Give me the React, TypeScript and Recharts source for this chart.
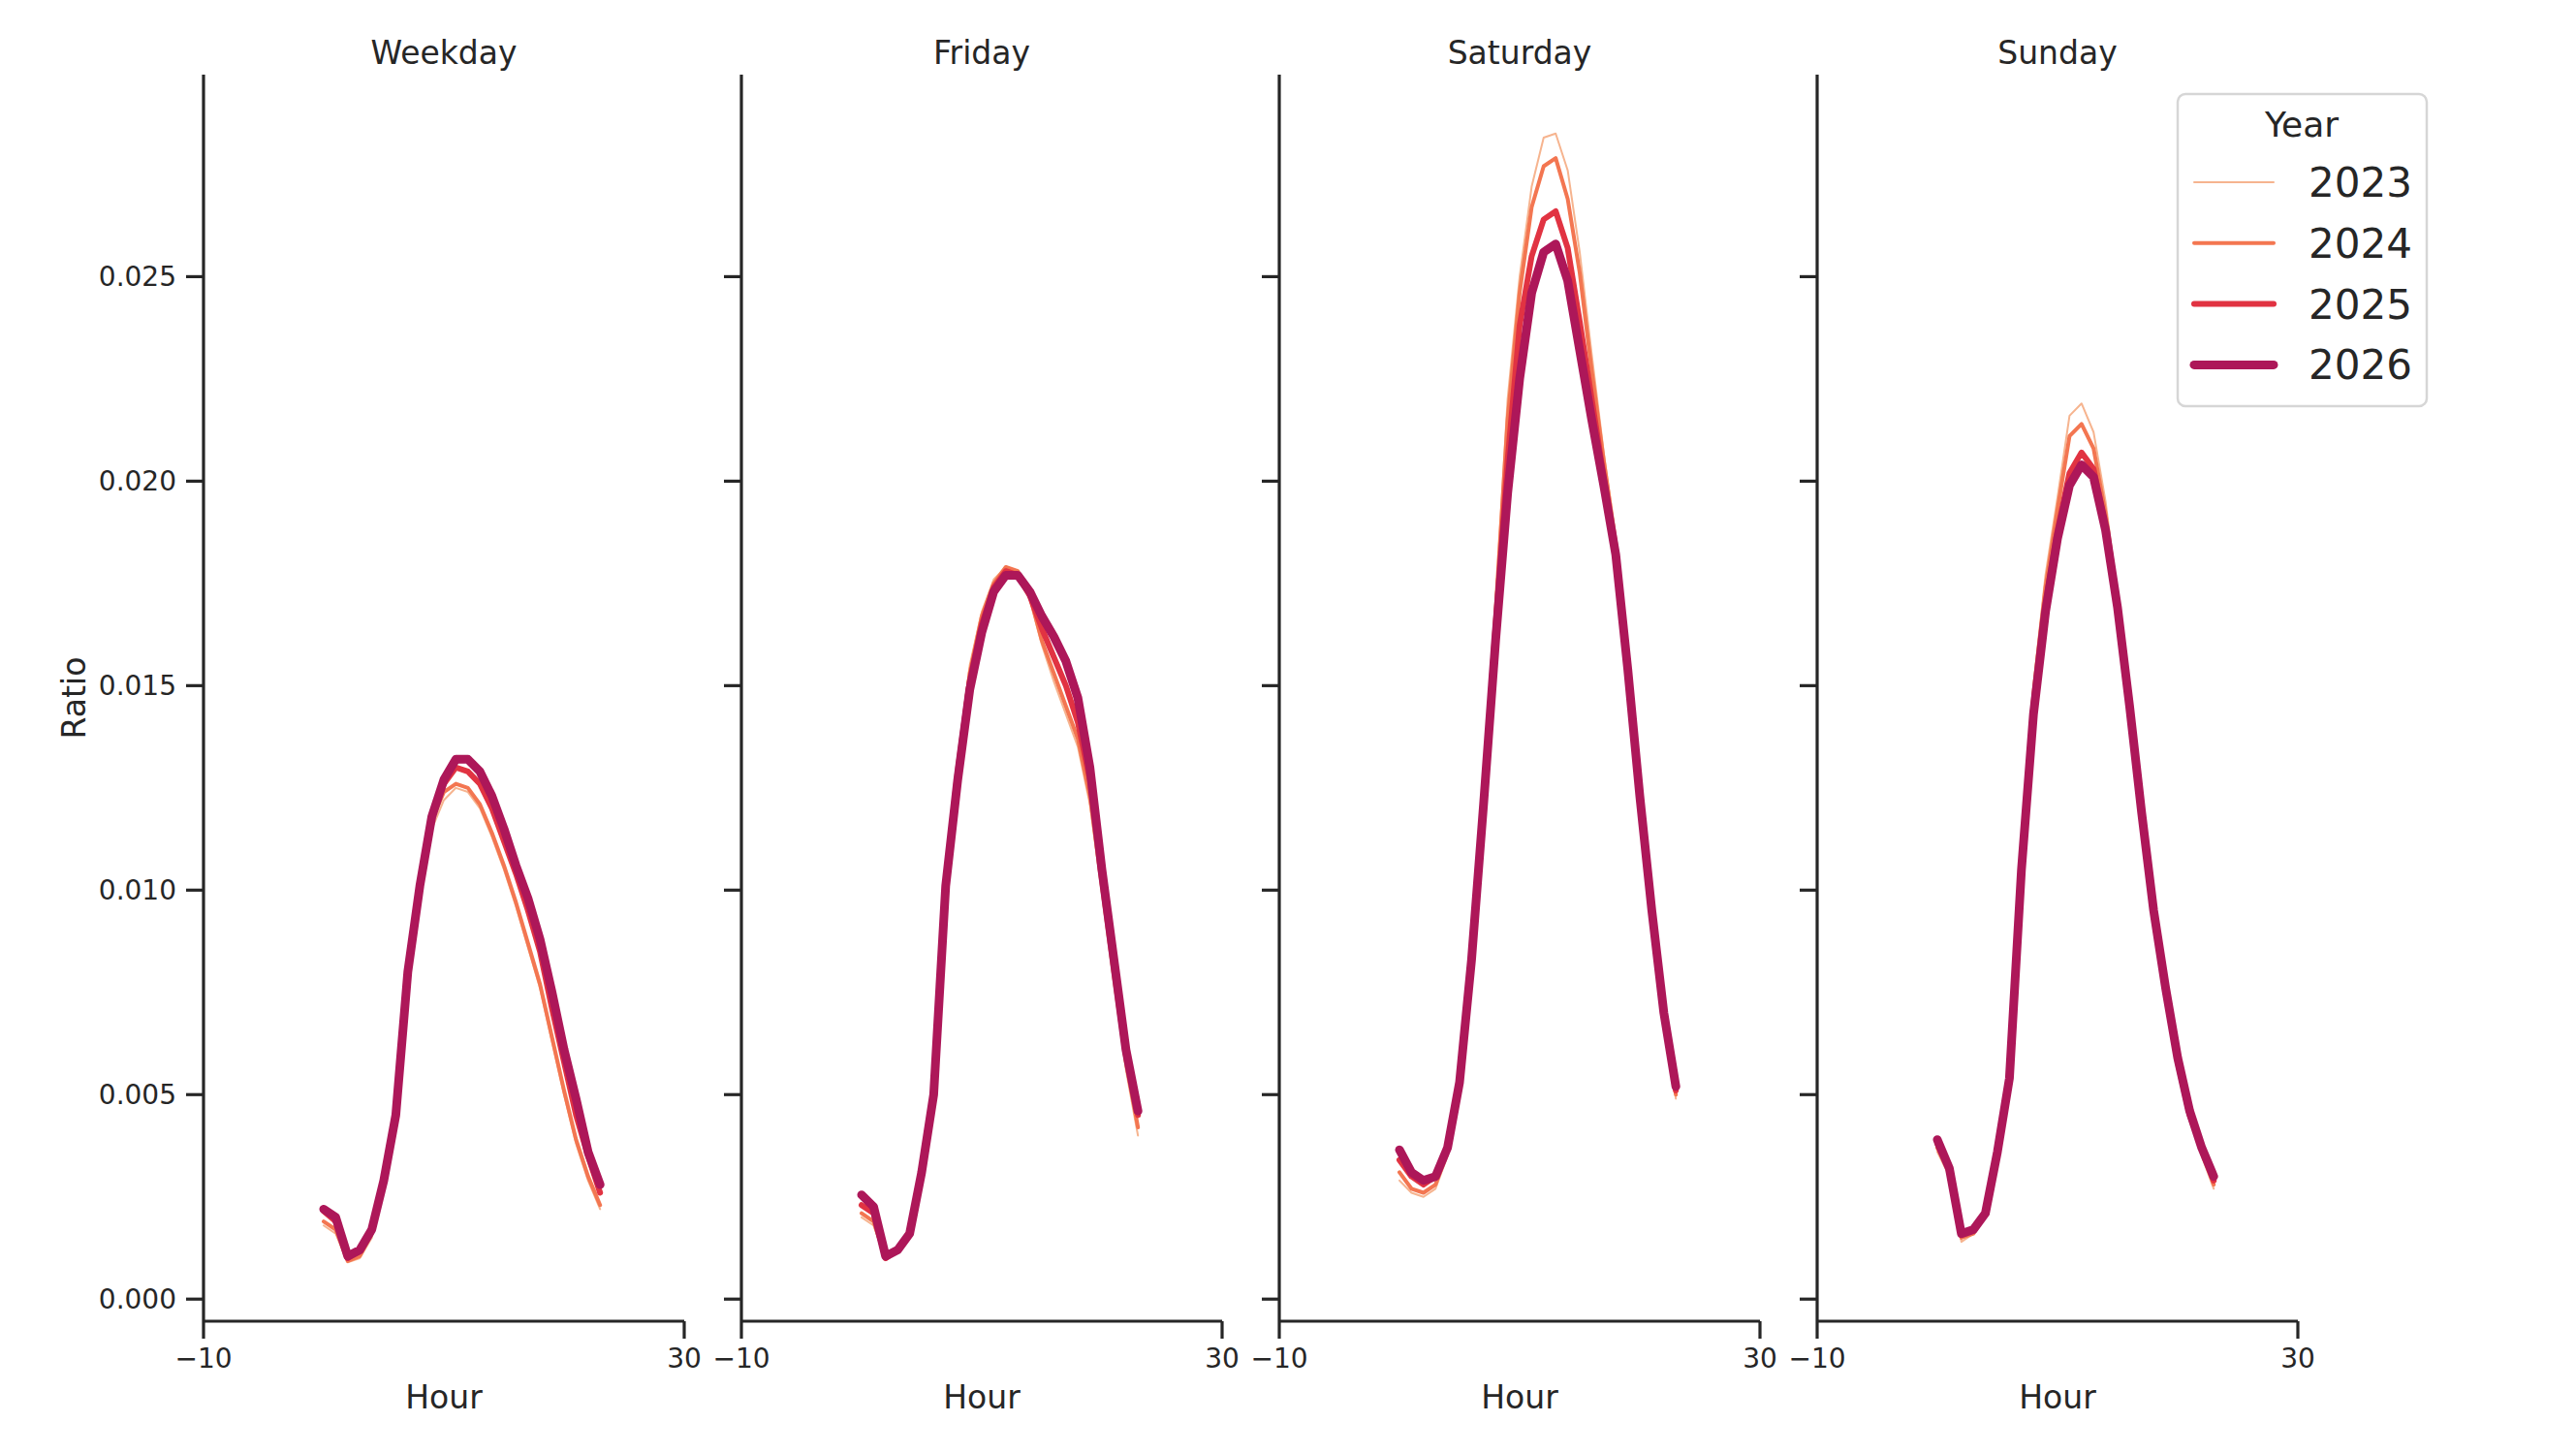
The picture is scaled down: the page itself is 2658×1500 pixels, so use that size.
import { LineChart, Line, XAxis, YAxis } from 'recharts';

const hours = [0, 1, 2, 3, 4, 5, 6, 7, 8, 9, 10, 11, 12, 13, 14, 15, 16, 17, 18, 19, 20, 21, 22, 23];
const years = ['2023', '2024', '2025', '2026'];
const yearColors = ['#f6b48f', '#f37651', '#e13342', '#ad1759'];
const yearWidths = [2, 4, 6, 9];
const dayTypes = ['Weekday', 'Friday', 'Saturday', 'Sunday'];
const yTicks = [0, 0.005, 0.01, 0.015, 0.02, 0.025];
const xTicks = [-10, 30];

const weekday2023 = [0.0018, 0.0016, 0.0009, 0.001, 0.0015, 0.0028, 0.0044, 0.008, 0.01, 0.0115, 0.0122, 0.0125, 0.0124, 0.012, 0.0113, 0.0105, 0.0096, 0.0086, 0.0076, 0.0063, 0.005, 0.0038, 0.0029, 0.0022];
const weekday2024 = [0.0019, 0.0017, 0.00093, 0.00105, 0.0016, 0.0029, 0.0044, 0.008, 0.0101, 0.0117, 0.0124, 0.0126, 0.0125, 0.0121, 0.0114, 0.0106, 0.0097, 0.0087, 0.0077, 0.0064, 0.0051, 0.0039, 0.003, 0.0023];
const weekday2025 = [0.00215, 0.0019, 0.001, 0.0012, 0.0017, 0.0029, 0.0045, 0.008, 0.0101, 0.0118, 0.0126, 0.013, 0.0129, 0.0126, 0.012, 0.0112, 0.0104, 0.0095, 0.0085, 0.0071, 0.0058, 0.0045, 0.0035, 0.0026];
const weekday2026 = [0.0022, 0.002, 0.00105, 0.0012, 0.0017, 0.0029, 0.0045, 0.008, 0.0101, 0.0118, 0.0127, 0.0132, 0.0132, 0.0129, 0.0123, 0.0115, 0.0106, 0.0098, 0.0088, 0.0075, 0.0061, 0.0049, 0.0036, 0.0028];

const friday2023 = [0.002, 0.0018, 0.00095, 0.00115, 0.0016, 0.0031, 0.005, 0.0104, 0.0131, 0.0155, 0.0168, 0.0176, 0.0179, 0.0178, 0.0171, 0.016, 0.0151, 0.0143, 0.0135, 0.0121, 0.0099, 0.0077, 0.0056, 0.004];
const friday2024 = [0.0021, 0.0019, 0.001, 0.0012, 0.0016, 0.0031, 0.005, 0.0103, 0.013, 0.0153, 0.0167, 0.0175, 0.0179, 0.0178, 0.0172, 0.0161, 0.0153, 0.0145, 0.0137, 0.0123, 0.0101, 0.0079, 0.0058, 0.0042];
const friday2025 = [0.0023, 0.0021, 0.001, 0.0012, 0.0016, 0.0031, 0.005, 0.0102, 0.0129, 0.0151, 0.0165, 0.0174, 0.0178, 0.0177, 0.0172, 0.0164, 0.0157, 0.015, 0.0141, 0.0127, 0.0104, 0.0082, 0.006, 0.0045];
const friday2026 = [0.00255, 0.00226, 0.00105, 0.0012, 0.0016, 0.0031, 0.005, 0.0101, 0.0127, 0.0149, 0.0163, 0.0173, 0.0177, 0.0177, 0.0173, 0.0167, 0.0162, 0.0156, 0.0147, 0.013, 0.0105, 0.0083, 0.0061, 0.0046];

const saturday2023 = [0.0029, 0.0026, 0.0025, 0.0027, 0.0035, 0.0054, 0.0085, 0.0126, 0.017, 0.022, 0.025, 0.0272, 0.0284, 0.0285, 0.0276, 0.0256, 0.0231, 0.0207, 0.0186, 0.0155, 0.0123, 0.0095, 0.007, 0.0049];
const saturday2024 = [0.0031, 0.0027, 0.0026, 0.0028, 0.0036, 0.0054, 0.0084, 0.0125, 0.0168, 0.0215, 0.0246, 0.0267, 0.0277, 0.0279, 0.0269, 0.0251, 0.0227, 0.0205, 0.0185, 0.0155, 0.0123, 0.0095, 0.007, 0.005];
const saturday2025 = [0.0034, 0.003, 0.0028, 0.003, 0.0037, 0.0053, 0.0083, 0.0122, 0.0164, 0.0205, 0.0238, 0.0255, 0.0264, 0.0266, 0.0257, 0.0239, 0.022, 0.0201, 0.0183, 0.0154, 0.0123, 0.0095, 0.007, 0.0051];
const saturday2026 = [0.00365, 0.0031, 0.0029, 0.003, 0.0037, 0.0053, 0.0083, 0.0121, 0.0161, 0.0197, 0.0225, 0.0246, 0.0256, 0.0258, 0.0249, 0.0232, 0.0215, 0.0199, 0.0182, 0.0154, 0.0123, 0.0095, 0.007, 0.0052];

const sunday2023 = [0.0036, 0.003, 0.0014, 0.0016, 0.0021, 0.0036, 0.0056, 0.011, 0.015, 0.0177, 0.0196, 0.0216, 0.0219, 0.0212, 0.0195, 0.0172, 0.0146, 0.0119, 0.0094, 0.0074, 0.0057, 0.0044, 0.0035, 0.0027];
const sunday2024 = [0.0037, 0.0031, 0.0015, 0.0016, 0.0021, 0.0036, 0.0055, 0.0109, 0.0148, 0.0174, 0.0193, 0.0211, 0.0214, 0.0208, 0.0192, 0.0171, 0.0146, 0.0119, 0.0095, 0.0075, 0.0058, 0.0045, 0.0036, 0.0028];
const sunday2025 = [0.0038, 0.0032, 0.0016, 0.0017, 0.0021, 0.0036, 0.0054, 0.0107, 0.0145, 0.017, 0.0188, 0.0202, 0.0207, 0.0203, 0.0189, 0.0169, 0.0145, 0.0119, 0.0095, 0.0075, 0.0058, 0.0045, 0.0037, 0.0029];
const sunday2026 = [0.0039, 0.0032, 0.0016, 0.0017, 0.0021, 0.0036, 0.0054, 0.0105, 0.0143, 0.0168, 0.0186, 0.0199, 0.0204, 0.0201, 0.0188, 0.0169, 0.0145, 0.0119, 0.0095, 0.0076, 0.0059, 0.0046, 0.0037, 0.003];

const seriesByDay = [
  [weekday2023, weekday2024, weekday2025, weekday2026],
  [friday2023, friday2024, friday2025, friday2026],
  [saturday2023, saturday2024, saturday2025, saturday2026],
  [sunday2023, sunday2024, sunday2025, sunday2026],
];

// layout (page pixels)
const PAGE_W = 2658;
const PAGE_H = 1500;
const FIRST_SPINE = 210;
const PANEL_STEP = 555;
const PLOT_W = 496;
const PLOT_TOP = 77;
const PLOT_BOTTOM = 1363;
const INK = '#262626';
const FONT = '"DejaVu Sans", sans-serif';

const axisStyle = { stroke: INK, strokeWidth: 3.2 };
const tickStyle = { fill: INK, fontSize: 28, fontFamily: FONT };

const fmtHour = (v: number) => (v < 0 ? `\u2212${-v}` : `${v}`);
const fmtRatio = (v: number) => v.toFixed(3);
const fmtBlank = () => '';

function buildRows(series: number[][]) {
  return hours.map((h, i) => {
    const row: Record<string, number> = { hour: h };
    years.forEach((y, k) => {
      row[y] = series[k][i];
    });
    return row;
  });
}

function Panel({ index }: { index: number }) {
  const spine = FIRST_SPINE + index * PANEL_STEP;
  const yW = index === 0 ? 210 : 30;
  const rows = buildRows(seriesByDay[index]);
  return (
    <div style={{ position: 'absolute', left: spine - yW, top: 0 }}>
      <LineChart
        width={yW + PLOT_W + 30}
        height={PAGE_H}
        data={rows}
        margin={{ top: PLOT_TOP, right: 30, bottom: 0, left: 0 }}
      >
        <XAxis
          type="number"
          dataKey="hour"
          domain={[-10, 30]}
          ticks={xTicks}
          interval={0}
          allowDataOverflow
          height={PAGE_H - PLOT_BOTTOM}
          tickSize={18}
          tickMargin={10}
          axisLine={axisStyle}
          tickLine={axisStyle}
          tick={tickStyle}
          tickFormatter={fmtHour}
        />
        <YAxis
          type="number"
          domain={[-0.00054, 0.02994]}
          ticks={yTicks}
          interval={0}
          allowDataOverflow
          width={yW}
          tickSize={18}
          tickMargin={10}
          axisLine={axisStyle}
          tickLine={axisStyle}
          tick={tickStyle}
          tickFormatter={index === 0 ? fmtRatio : fmtBlank}
        />
        {years.map((y, k) => (
          <Line
            key={y}
            dataKey={y}
            type="linear"
            stroke={yearColors[k]}
            strokeWidth={yearWidths[k]}
            strokeLinejoin="round"
            strokeLinecap="round"
            dot={false}
            activeDot={false}
            isAnimationActive={false}
          />
        ))}
      </LineChart>
    </div>
  );
}

function Overlay() {
  const legendX = 2247;
  const legendY = 97;
  return (
    <svg
      width={PAGE_W}
      height={PAGE_H}
      style={{ position: 'absolute', left: 0, top: 0, pointerEvents: 'none' }}
      fontFamily={FONT}
      fill={INK}
    >
      {dayTypes.map((d, i) => {
        const cx = FIRST_SPINE + i * PANEL_STEP + PLOT_W / 2;
        return (
          <g key={d}>
            <text x={cx} y={66} fontSize={33} textAnchor="middle">{d}</text>
            <text x={cx} y={1453} fontSize={33} textAnchor="middle">Hour</text>
          </g>
        );
      })}
      <text x={88} y={720} fontSize={33} textAnchor="middle" transform="rotate(-90 88 720)">Ratio</text>

      <rect x={legendX} y={legendY} width={257} height={322} rx={8} fill="#fff" stroke="#d6d6d6" strokeWidth={2.5} />
      <text x={2375} y={141} fontSize={36} textAnchor="middle">Year</text>
      {years.map((y, k) => {
        const base = 203 + k * 62.8;
        return (
          <g key={y}>
            <line x1={2264} x2={2346} y1={base - 15} y2={base - 15} stroke={yearColors[k]} strokeWidth={yearWidths[k]} strokeLinecap="round" />
            <text x={2382} y={base} fontSize={42}>{y}</text>
          </g>
        );
      })}
    </svg>
  );
}

export default function App() {
  return (
    <div style={{ position: 'relative', width: PAGE_W, height: PAGE_H, background: '#fff', fontFamily: FONT }}>
      <style>{'body{margin:0}'}</style>
      {dayTypes.map((d, i) => (
        <Panel key={d} index={i} />
      ))}
      <Overlay />
    </div>
  );
}
